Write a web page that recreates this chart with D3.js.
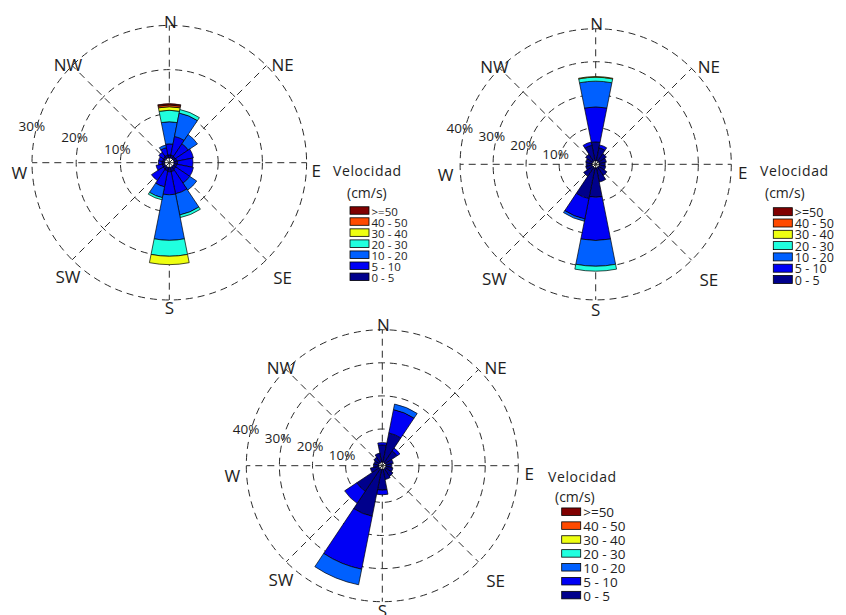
<!DOCTYPE html>
<html><head><meta charset="utf-8">
<script src="https://cdn.jsdelivr.net/npm/d3@7"></script>
<style>
html,body{margin:0;padding:0;background:#fff;}
svg{display:block;font-family:"Open Sans","Noto Sans",sans-serif;}
</style></head>
<body><svg id="chart" width="846" height="615"></svg>
<script>
// 16 wind directions, clockwise from north
const directions = ["N","NNE","NE","ENE","E","ESE","SE","SSE","S","SSW","SW","WSW","W","WNW","NW","NNW"];
// current speed classes (cm/s)
const speedBins = ["0 - 5","5 - 10","10 - 20","20 - 30","30 - 40","40 - 50",">=50"];
const compassLabels = ["N","NE","E","SE","S","SW","W","NW"];

// frequency (%) of each speed class, per direction
const roseA = [
  [0.7,2.5,5.0,2.6,0.8,0.4,0.3],
  [0.7,4.3,5.4,0.8],
  [0.6,3.5,2.5],
  [0.7,3.8],
  [0.8,3.5],
  [0.7,3.8],
  [0.7,3.8,1.9],
  [1.0,5.1,4.9,0.6],
  [1.0,5.2,10.3,3.6,1.9],
  [0.8,3.7,2.5,0.5],
  [0.7,3.1],
  [0.6,1.4],
  [0.6,0.8],
  [0.5,0.9],
  [0.6,1.2],
  [0.7,1.7,0.6]
];
const roseB = [
  [5.7,10.6,7.8,1.2,0.2],
  [4.0,0.9],
  [2.8],
  [2.2],
  [1.8],
  [2.0],
  [3.0],
  [4.4],
  [8.9,13.1,7.8,1.5],
  [9.5,6.3,0.7],
  [3.3],
  [2.0],
  [1.8],
  [2.0],
  [2.6],
  [4.8,1.0]
];
const roseC = [
  [5.2,0.7],
  [9.0,7.2,1.7],
  [4.3,1.0],
  [2.3],
  [1.8],
  [2.2],
  [2.8],
  [3.2],
  [6.3,1.4],
  [14.5,16.3,4.8],
  [8.2,4.4],
  [2.6],
  [1.6],
  [1.5],
  [2.0],
  [2.8]
];
const ringsA = [10,20,30];
const ringsB = [10,20,30,40];
const ringsC = [10,20,30,40];

const binColors = ["#00008c","#0000f5","#0060ff","#20ffdf","#eeff11","#ff4a00","#800000"];

const panels = [
  {data: roseA, rings: ringsA, cx: 169.3, cy: 162.7, r0: 4.7, rOuter: 137.3,
   legend: {titleX: 333, titleY: 170, unitX: 347, unitY: 192, swX: 350, rowY: 210.5, step: 11.05, font: 11.5, swH: 7.5}},
  {data: roseB, rings: ringsB, cx: 595.7, cy: 164.3, r0: 3.6, rOuter: 135.6,
   legend: {titleX: 760, titleY: 170, unitX: 765, unitY: 192, swX: 773.3, rowY: 211.7, step: 11.3, font: 12.5, swH: 8}},
  {data: roseC, rings: ringsC, cx: 382.3, cy: 465.7, r0: 3.6, rOuter: 136,
   legend: {titleX: 548, titleY: 476, unitX: 555, unitY: 496, swX: 561.7, rowY: 511.7, step: 13.9, font: 13.5, swH: 7.5}}
];

// nudges for the compass labels around the outer ring
const labelNudge = {N:[1,5],NE:[10,5],E:[1,8],SE:[10,12],S:[0,-1],SW:[2,11],W:[-4,10],NW:[2,5]};

const svg = d3.select("#chart");
const sectorHalf = Math.PI / 16;
const gridColor = "#2a2a2a";
const textColor = "#1e1e1e";

panels.forEach(p => {
  const g = svg.append("g").attr("transform", `translate(${p.cx},${p.cy})`);
  const r = d3.scaleLinear().domain([0, d3.max(p.rings)]).range([p.r0, p.rOuter]);

  // dashed rings
  g.selectAll("circle.ring").data(p.rings).join("circle")
    .attr("class", "ring")
    .attr("r", d => r(d))
    .attr("fill", "none").attr("stroke", gridColor).attr("stroke-width", 1)
    .attr("stroke-dasharray", "7,5");

  // dashed spokes N-S, NE-SW, E-W, SE-NW
  const spokeAngles = d3.range(8).map(i => i * Math.PI / 4);
  g.selectAll("line.spoke").data(spokeAngles).join("line")
    .attr("class", "spoke")
    .attr("x1", 0).attr("y1", 0)
    .attr("x2", a => Math.sin(a) * r.range()[1])
    .attr("y2", a => -Math.cos(a) * r.range()[1])
    .attr("stroke", gridColor).attr("stroke-width", 1)
    .attr("stroke-dasharray", "7,5");

  // stacked sectors
  const arc = d3.arc();
  const pieces = [];
  p.data.forEach((vals, i) => {
    const a = i * 2 * Math.PI / directions.length;
    let cum = 0;
    vals.forEach((v, b) => {
      if (v <= 0) return;
      pieces.push({dir: directions[i], bin: b, a, lo: cum, hi: cum + v});
      cum += v;
    });
  });
  g.selectAll("path.sector").data(pieces).join("path")
    .attr("class", "sector")
    .attr("d", d => arc({innerRadius: r(d.lo), outerRadius: r(d.hi),
                         startAngle: d.a - sectorHalf, endAngle: d.a + sectorHalf}))
    .attr("fill", d => binColors[d.bin])
    .attr("stroke", "#000").attr("stroke-width", 0.7).attr("stroke-linejoin", "round");

  // ring percentage labels
  const la = 15 * Math.PI / 180;
  g.selectAll("text.pct").data(p.rings).join("text")
    .attr("class", "pct")
    .attr("x", d => -(r(d) + 5) * Math.cos(la))
    .attr("y", d => -(r(d) + 5) * Math.sin(la))
    .attr("text-anchor", "middle").attr("dominant-baseline", "central")
    .attr("font-size", 13.5).attr("fill", textColor)
    .text(d => d + "%");

  // compass labels
  const lr = 146;
  g.selectAll("text.dir").data(compassLabels).join("text")
    .attr("class", "dir")
    .attr("x", (d, i) => Math.sin(i * Math.PI / 4) * lr + labelNudge[d][0])
    .attr("y", (d, i) => -Math.cos(i * Math.PI / 4) * lr + labelNudge[d][1])
    .attr("text-anchor", "middle").attr("dominant-baseline", "central")
    .attr("font-size", 17).attr("fill", textColor)
    .text(d => d);

  // legend
  const L = p.legend;
  svg.append("text").attr("x", L.titleX).attr("y", L.titleY)
    .attr("dominant-baseline", "central").attr("font-size", 14).attr("letter-spacing", 0.6)
    .attr("fill", textColor).text("Velocidad");
  svg.append("text").attr("x", L.unitX).attr("y", L.unitY)
    .attr("dominant-baseline", "central").attr("font-size", 14)
    .attr("fill", textColor).text("(cm/s)");
  const order = d3.range(speedBins.length).reverse();
  const lg = svg.append("g");
  const rows = lg.selectAll("g").data(order).join("g")
    .attr("transform", (b, k) => `translate(${L.swX},${L.rowY + k * L.step})`);
  rows.append("rect").attr("x", 0).attr("y", -L.swH / 2).attr("width", 19).attr("height", L.swH)
    .attr("fill", b => binColors[b]).attr("stroke", "#000").attr("stroke-width", 0.8);
  rows.append("text").attr("x", 21.5).attr("y", 0.5)
    .attr("dominant-baseline", "central").attr("font-size", L.font).attr("fill", textColor)
    .text(b => speedBins[b]);
});
</script>
</body></html>
